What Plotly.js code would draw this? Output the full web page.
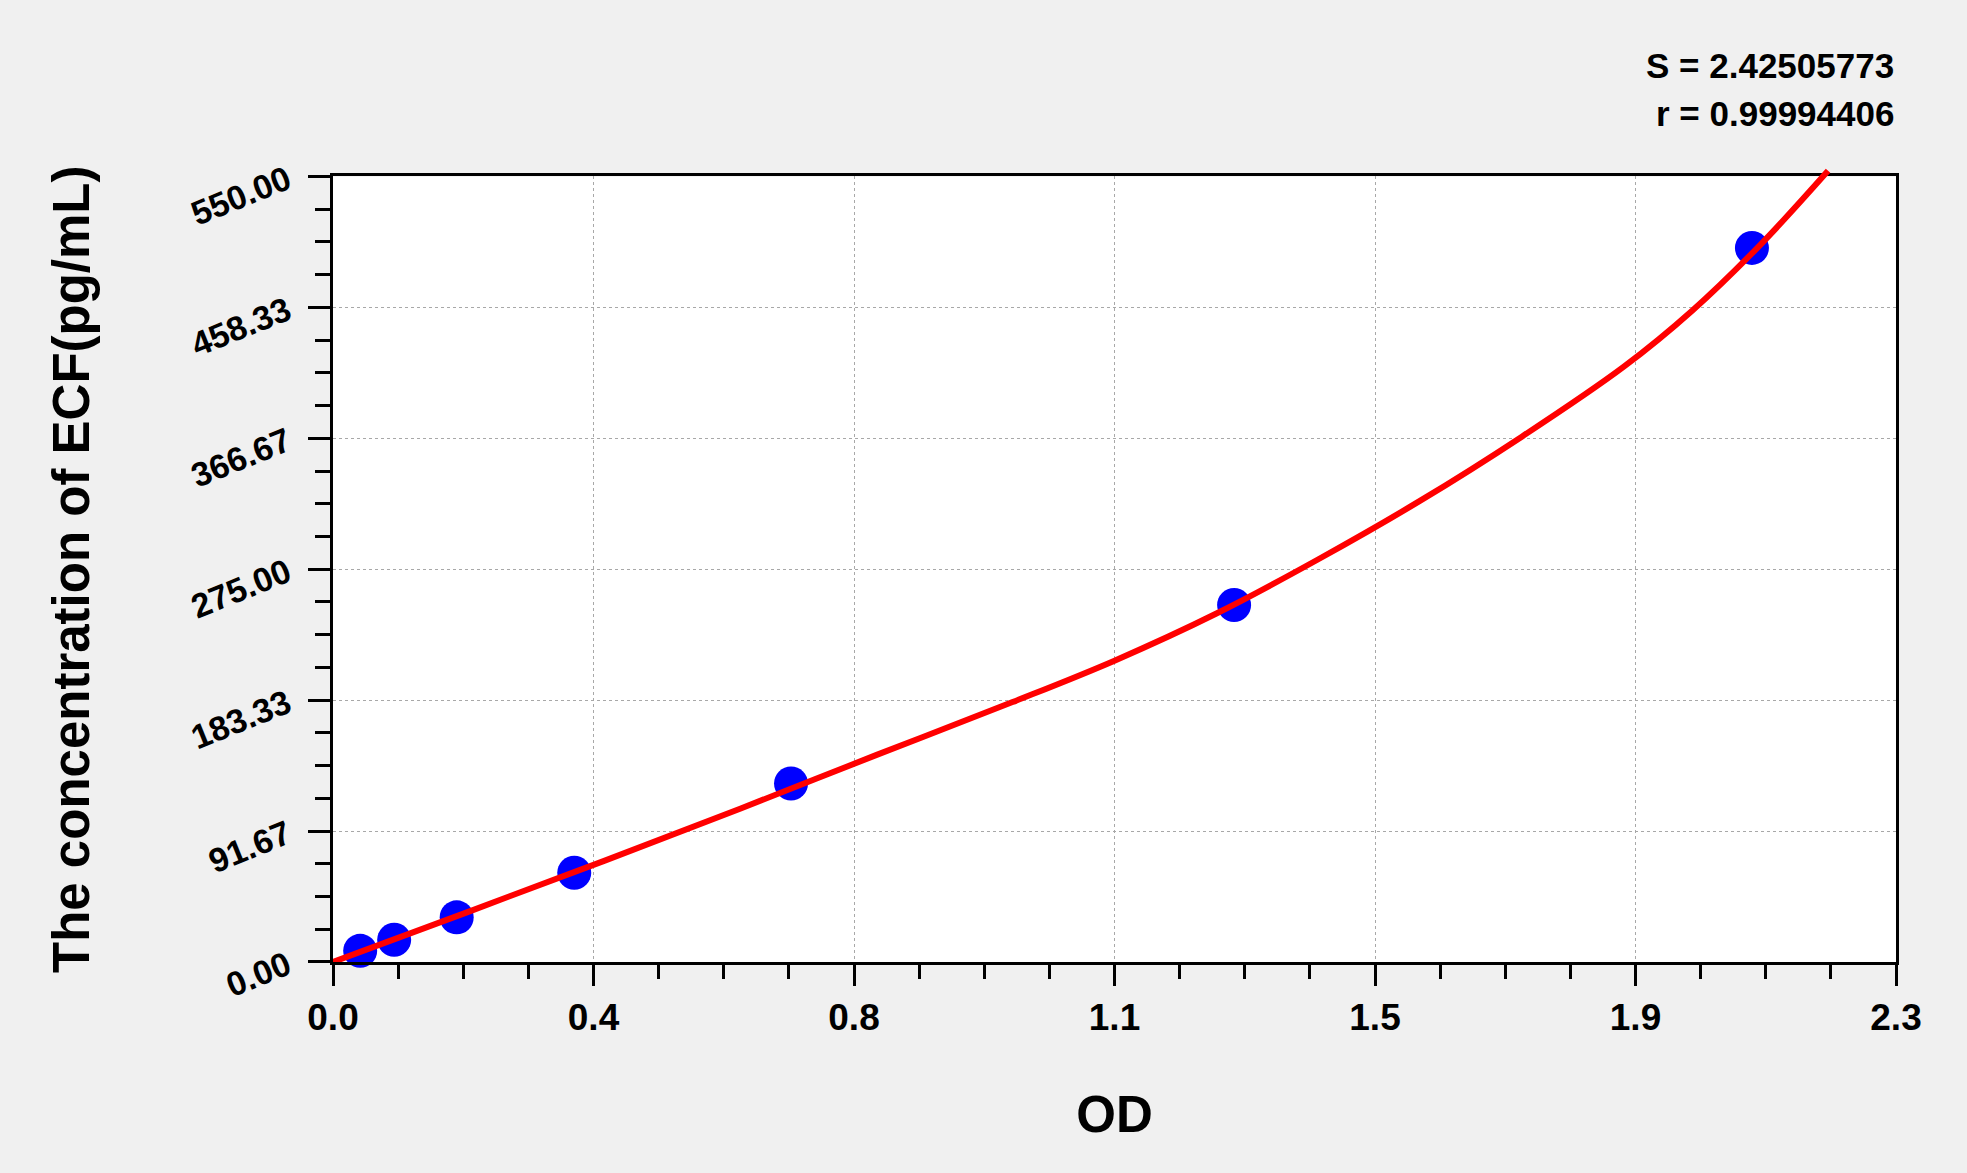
<!DOCTYPE html>
<html>
<head>
<meta charset="utf-8">
<script src="https://cdn.plot.ly/plotly-3.0.1.min.js"></script>
<style>
  html, body { margin: 0; padding: 0; background: #f0f0f0; }
  #chart { width: 1967px; height: 1173px; }
</style>
</head>
<body>
<div id="chart"></div>
<script>
// Standard points (OD vs concentration)
const standardOD   = [0.040, 0.090, 0.182, 0.355, 0.674, 1.326, 2.088];
const standardConc = [7.81, 15.63, 31.25, 62.5, 125, 250, 500];

// Fitted curve
const curveOD   = [0.000, 0.200, 0.400, 0.600, 0.800, 1.000, 1.150, 1.300, 1.450, 1.600, 1.750, 1.900, 2.000, 2.100, 2.200];
const curveConc = [0.0, 35.3, 71.0, 107.5, 145.0, 182.0, 211.0, 244.0, 282.0, 323.0, 368.0, 417.0, 456.0, 502.0, 554.0];

// Axis ticks
const xTickVals  = [0, 0.38333, 0.76667, 1.15, 1.53333, 1.91667, 2.3];
const xTickText  = ["0.0", "0.4", "0.8", "1.1", "1.5", "1.9", "2.3"];
const yTickVals  = [0, 91.667, 183.333, 275, 366.667, 458.333, 550];
const yTickText  = ["0.00", "91.67", "183.33", "275.00", "366.67", "458.33", "550.00"];

const statS = "S = 2.42505773";
const statR = "r = 0.99994406";
const xTitle = "OD";
const yTitle = "The concentration of ECF(pg/mL)";

const FONT = "Liberation Sans, Arial, sans-serif";
const H_TOP = 160, H_BOT = 210.5, W = 1967, HT = 1173;
const paperH = HT - H_TOP - H_BOT;
const plotTopPx = 176.5, plotBotPx = 962.5;
const yDomTop = (plotBotPx - plotTopPx) / paperH;
const y2Top = 550 / yDomTop;

const traces = [
  {
    x: standardOD, y: standardConc, type: 'scatter', mode: 'markers',
    marker: { color: '#0000ff', size: 34, line: { width: 0 } },
    cliponaxis: false, xaxis: 'x', yaxis: 'y', hoverinfo: 'x+y'
  },
  {
    x: curveOD, y: curveConc, type: 'scatter', mode: 'lines',
    line: { color: '#ff0000', width: 6, shape: 'spline', smoothing: 1 },
    xaxis: 'x2', yaxis: 'y2', hoverinfo: 'x+y'
  }
];

const layout = {
  width: W, height: HT,
  margin: { l: 333, r: 71, t: H_TOP, b: H_BOT, pad: 0 },
  paper_bgcolor: '#f0f0f0',
  plot_bgcolor: 'rgba(0,0,0,0)',
  showlegend: false,
  xaxis: {
    domain: [0, 1], range: [0, 2.3], anchor: 'y',
    tickmode: 'array', tickvals: xTickVals, ticktext: xTickText,
    ticks: 'outside', ticklen: 21, tickwidth: 3, tickcolor: '#000',
    minor: { tickmode: 'linear', tick0: 0, dtick: 2.3 / 24, ticks: 'outside', ticklen: 14, tickwidth: 3, tickcolor: '#000', showgrid: false },
    showline: true, linecolor: '#000', linewidth: 3, mirror: true,
    showgrid: true, gridcolor: '#a8a8a8', gridwidth: 1, griddash: '3px,3px',
    zeroline: false, tickfont: { family: FONT, size: 37, color: '#000', weight: 700 },
    title: { text: xTitle, font: { family: FONT, size: 51, color: '#000', weight: 700 }, standoff: 59 },
    automargin: false
  },
  yaxis: {
    domain: [0, yDomTop], range: [0, 550], anchor: 'x',
    tickmode: 'array', tickvals: yTickVals, ticktext: yTickText,
    ticks: 'outside', ticklen: 22, tickwidth: 3, tickcolor: '#000',
    minor: { tickmode: 'linear', tick0: 0, dtick: 550 / 24, ticks: 'outside', ticklen: 15, tickwidth: 3, tickcolor: '#000', showgrid: false },
    showline: true, linecolor: '#000', linewidth: 3, mirror: true,
    showgrid: true, gridcolor: '#a8a8a8', gridwidth: 1, griddash: '3px,3px',
    zeroline: false, tickfont: { family: FONT, size: 34, color: '#000', weight: 700 },
    tickangle: -22, ticklabelstandoff: 14,
    title: { text: yTitle, font: { family: FONT, size: 51, color: '#000', weight: 700 }, standoff: 80 },
    automargin: false
  },
  xaxis2: { domain: [0, 1], range: [0, 2.3], anchor: 'y2', visible: false, fixedrange: true },
  yaxis2: { domain: [0, 1], range: [0, y2Top], anchor: 'x2', visible: false, fixedrange: true },
  shapes: [
    { type: 'rect', xref: 'x', yref: 'y', x0: 0, x1: 2.3, y0: 0, y1: 550,
      fillcolor: '#ffffff', line: { width: 0 }, layer: 'below' }
  ],
  annotations: [
    { text: statS, xref: 'paper', yref: 'paper', x: 1, xanchor: 'right',
      y: (plotBotPx - 65) / paperH, yanchor: 'middle', showarrow: false,
      font: { family: FONT, size: 35, color: '#000', weight: 700 } },
    { text: statR, xref: 'paper', yref: 'paper', x: 1, xanchor: 'right',
      y: (plotBotPx - 113.4) / paperH, yanchor: 'middle', showarrow: false,
      font: { family: FONT, size: 35, color: '#000', weight: 700 } }
  ]
};

Plotly.newPlot('chart', traces, layout, { displayModeBar: false, staticPlot: true });
</script>
</body>
</html>
